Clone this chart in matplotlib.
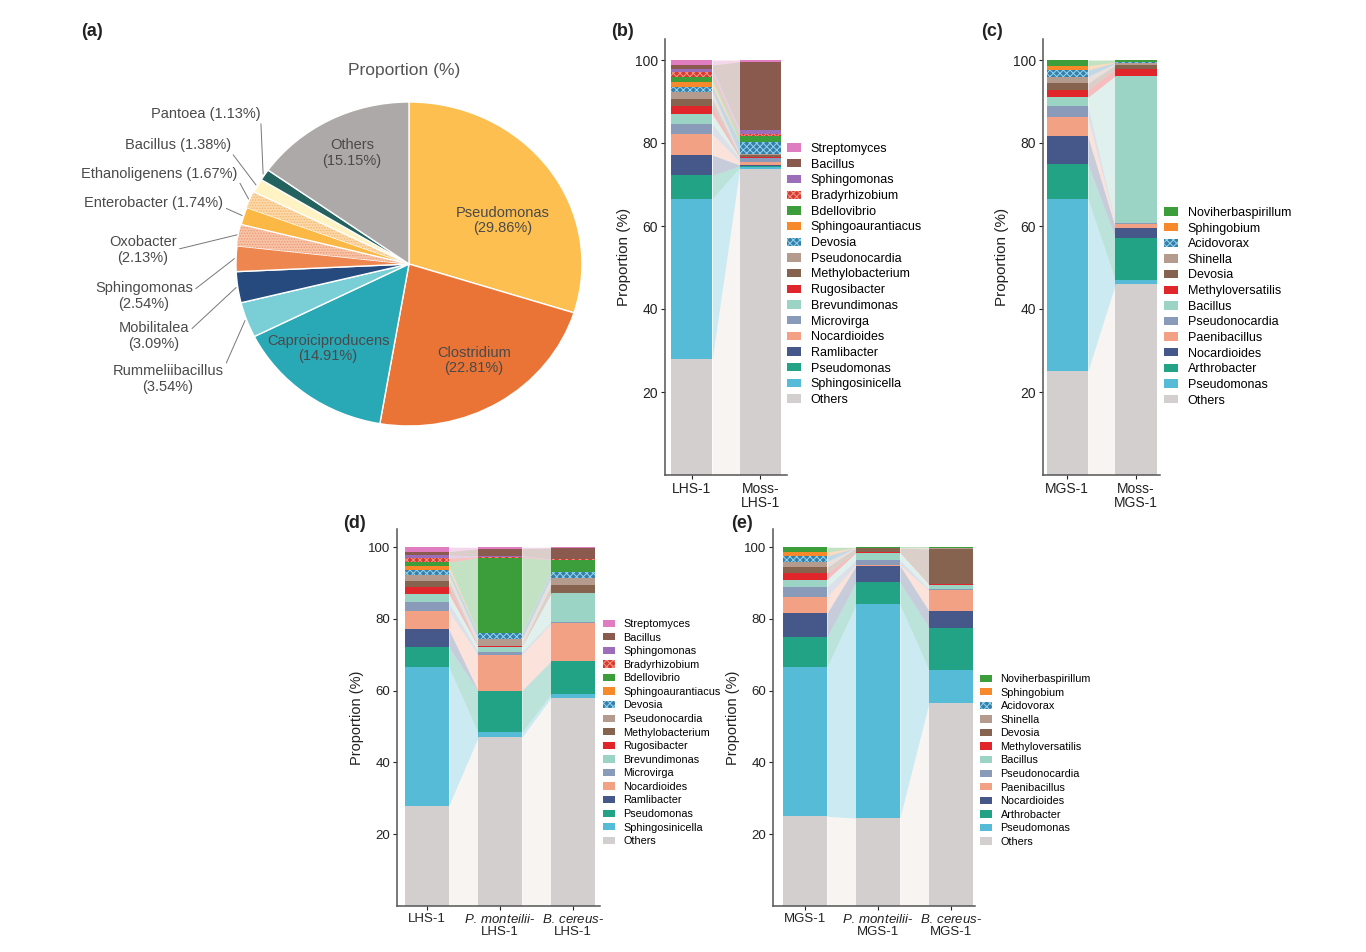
import numpy as np
import matplotlib
matplotlib.use("Agg")
import matplotlib.pyplot as plt
from matplotlib.patches import Patch

plt.rcParams['font.family'] = ['Liberation Sans', 'DejaVu Sans']
plt.rcParams['mathtext.fontset'] = 'custom'
plt.rcParams['mathtext.rm'] = 'Liberation Sans'
plt.rcParams['mathtext.it'] = 'Liberation Sans:italic'
plt.rcParams['hatch.linewidth'] = 0.7

W, H = 1366, 952

# ---------------- data ----------------
# (a) pie, clockwise from 12 o'clock
pie_names = ["Pseudomonas", "Clostridium", "Caproiciproducens", "Rummeliibacillus",
             "Mobilitalea", "Sphingomonas", "Oxobacter", "Enterobacter",
             "Ethanoligenens", "Bacillus", "Pantoea", "Others"]
pie_values = [29.86, 22.81, 14.91, 3.54, 3.09, 2.54, 2.13, 1.74, 1.67, 1.38, 1.13, 15.15]
pie_colors = ["#FDBF50", "#E97435", "#29A8B5", "#7ACFD6", "#264A7D", "#EE8650",
              "#F7C4A6", "#FBB845", "#FCD9AA", "#FFF3C4", "#24625F", "#ADA9A8"]

# (b)/(d) taxa, stacked bottom -> top
lhs_taxa = ["Others", "Sphingosinicella", "Pseudomonas", "Ramlibacter", "Nocardioides",
            "Microvirga", "Brevundimonas", "Rugosibacter", "Methylobacterium",
            "Pseudonocardia", "Devosia", "Sphingoaurantiacus", "Bdellovibrio",
            "Bradyrhizobium", "Sphingomonas", "Bacillus", "Streptomyces"]
lhs1 = [28.0, 38.6, 5.6, 4.9, 5.1, 2.4, 2.4, 2.0, 1.6, 1.8, 1.2, 1.2, 1.0, 1.2, 0.8, 1.0, 1.2]
moss_lhs1 = [73.8, 0.3, 0.4, 0.2, 0.8, 0.8, 0.2, 0.1, 0.4, 0.4, 2.8, 0.1, 1.4, 0.5, 1.0, 16.4, 0.4]
pm_lhs1 = [47.0, 1.4, 11.4, 0.2, 10.0, 0.9, 1.4, 0.1, 0.2, 1.9, 1.5, 0.1, 21.0, 0.3, 0.2, 2.0, 0.4]
bc_lhs1 = [58.1, 1.0, 9.1, 0.1, 10.5, 0.5, 7.9, 0.1, 2.1, 2.1, 1.6, 0.1, 3.3, 0.1, 0.1, 3.1, 0.2]

# (c)/(e) taxa, stacked bottom -> top
mgs_taxa = ["Others", "Pseudomonas", "Arthrobacter", "Nocardioides", "Paenibacillus",
            "Pseudonocardia", "Bacillus", "Methyloversatilis", "Devosia", "Shinella",
            "Acidovorax", "Sphingobium", "Noviherbaspirillum"]
mgs1 = [25.0, 41.6, 8.4, 6.6, 4.6, 2.8, 2.0, 1.8, 1.6, 1.6, 1.6, 1.0, 1.4]
moss_mgs1 = [46.0, 1.0, 10.2, 2.4, 0.8, 0.4, 35.4, 1.6, 1.0, 0.4, 0.2, 0.1, 0.5]
pm_mgs1 = [24.5, 59.6, 6.2, 4.6, 0.2, 1.4, 2.0, 0.1, 1.2, 0.1, 0.0, 0.0, 0.1]
bc_mgs1 = [56.7, 9.0, 11.9, 4.6, 5.8, 0.3, 1.3, 0.2, 9.7, 0.2, 0.1, 0.1, 0.1]

# colours per stacking level
lhs_colors = ["#D3CFCF", "#55BBD6", "#22A385", "#46578A", "#F2A185", "#8A9AB9",
              "#9BD3C4", "#E0262A", "#85634F", "#B59B8D", "#3B7DAA", "#F8892A",
              "#3B9E3A", "#D93A30", "#9C6DB8", "#8A5A4E", "#E07DC0"]
lhs_hatch = {"Devosia": "#8CD8EE", "Bradyrhizobium": "#F29A8A"}
mgs_colors = ["#D3CFCF", "#55BBD6", "#22A385", "#46578A", "#F2A185", "#8A9AB9",
              "#9BD3C4", "#E0262A", "#85634F", "#B59B8D", "#3B7DAA", "#F8892A",
              "#3B9E3A"]
mgs_hatch = {"Acidovorax": "#8CD8EE"}


def fx(x):
    return x / W


def fy(y):
    return 1 - y / H


fig = plt.figure(figsize=(W / 100, H / 100), dpi=100)

# ---------------- (a) pie ----------------
ax_a = fig.add_axes([fx(236), fy(426), 346 / W, 324 / H])
wedges, _ = ax_a.pie(pie_values, colors=pie_colors, startangle=90, counterclock=False,
                     wedgeprops=dict(edgecolor="white", linewidth=1.0))
ax_a.set_aspect("auto")
ax_a.set_xlim(-1, 1)
ax_a.set_ylim(-1, 1)
for w, name in zip(wedges, pie_names):
    if name == "Oxobacter":
        w.set_hatch("......")
        w.set_edgecolor("#EF9A78")
        w.set_linewidth(0)
    if name == "Ethanoligenens":
        w.set_hatch("......")
        w.set_edgecolor("#F7B56A")
        w.set_linewidth(0)

inside = {"Others": (-0.33, 0.685), "Pseudomonas": (0.543, 0.27),
          "Clostridium": (0.376, -0.593), "Caproiciproducens": (-0.468, -0.519)}
for name, (tx, ty) in inside.items():
    v = pie_values[pie_names.index(name)]
    ax_a.text(tx, ty, f"{name}\n({v:.2f}%)", ha="center", va="center",
              fontsize=10.5, color="#4a4a4a", linespacing=1.1)

outside = {"Pantoea": (206, 114, False, (1.0, 0.0)),
           "Bacillus": (178, 145, False, (1.0, 0.0)),
           "Ethanoligenens": (159, 174, False, (1.0, 0.2)),
           "Enterobacter": (154, 203, False, (1.0, 0.2)),
           "Oxobacter": (143, 250, True, (0.88, 0.45)),
           "Sphingomonas": (144, 296, True, (0.97, 0.6)),
           "Mobilitalea": (154, 336, True, (0.97, 0.6)),
           "Rummeliibacillus": (168, 379, True, (0.95, 0.4))}
for name, (px, py, two, rp) in outside.items():
    i = pie_names.index(name)
    w = wedges[i]
    ang = np.deg2rad((w.theta1 + w.theta2) / 2)
    v = pie_values[i]
    label = f"{name}\n({v:.2f}%)" if two else f"{name} ({v:.2f}%)"
    ax_a.annotate(label, xy=(np.cos(ang) * 1.01, np.sin(ang) * 1.01), xycoords="data",
                  xytext=(px, H - py), textcoords="figure pixels",
                  ha="center", va="center", fontsize=10.5, color="#4a4a4a",
                  linespacing=1.1, annotation_clip=False,
                  arrowprops=dict(arrowstyle="-", color="#777777", lw=0.7,
                                  shrinkA=0, shrinkB=0, relpos=rp))

fig.text(fx(404), fy(70), "Proportion (%)", ha="center", va="center",
         fontsize=12.5, color="#555555")


# ---------------- stacked bar panels ----------------
def stacked(ax, samples, taxa, colors, hatches, width=0.6):
    x = np.arange(len(samples))
    data = np.array(samples).T  # taxa x samples
    bottoms = np.zeros(len(samples))
    for k, name in enumerate(taxa):
        vals = data[k]
        tops = bottoms + vals
        c = colors[k]
        # the flow band for Others is a warm off-white in the original
        band = "#E6DCD5" if name == "Others" else c
        for i in range(len(x) - 1):
            ax.fill_between([x[i] + width / 2, x[i + 1] - width / 2],
                            [bottoms[i], bottoms[i + 1]], [tops[i], tops[i + 1]],
                            color=band, alpha=0.3, lw=0)
        if name in hatches:
            ax.bar(x, vals, width, bottom=bottoms, color=c, hatch="xxxxx",
                   edgecolor=hatches[name], lw=0)
        else:
            ax.bar(x, vals, width, bottom=bottoms, color=c, lw=0)
        bottoms = tops
    return x


def style(ax, x, xlabels, xlim, fs):
    ax.set_xlim(*xlim)
    ax.set_ylim(0, 105)
    ax.set_yticks([20, 40, 60, 80, 100])
    ax.set_xticks(x)
    ax.set_xticklabels(xlabels, fontsize=fs, linespacing=1.0)
    ax.tick_params(axis="y", labelsize=fs, colors="#222222", length=3, width=0.8, pad=2)
    ax.tick_params(axis="x", colors="#222222", length=3, width=0.8, pad=2)
    for s in ["top", "right"]:
        ax.spines[s].set_visible(False)
    for s in ["left", "bottom"]:
        ax.spines[s].set_color("#555555")
        ax.spines[s].set_linewidth(1.1)
    ax.set_ylabel("Proportion (%)", fontsize=fs + 1, color="#222222", labelpad=3)


def legend(ax, taxa, colors, hatches, x, y, fs, spacing):
    handles = []
    for name, c in zip(taxa[::-1], colors[::-1]):
        if name in hatches:
            handles.append(Patch(facecolor=c, edgecolor=hatches[name], hatch="xxxxx", lw=0))
        else:
            handles.append(Patch(facecolor=c, lw=0))
    ax.legend(handles, taxa[::-1], loc="upper left",
              bbox_to_anchor=(fx(x), fy(y)), bbox_transform=fig.transFigure,
              frameon=False, fontsize=fs, handlelength=1.1, handleheight=0.65,
              handletextpad=0.8, labelspacing=spacing, borderpad=0, borderaxespad=0)


# (b)
ax_b = fig.add_axes([fx(665), fy(475), 122 / W, (475 - 39.25) / H])
xb = stacked(ax_b, [lhs1, moss_lhs1], lhs_taxa, lhs_colors, lhs_hatch)
style(ax_b, xb, ["LHS-1", "Moss-\nLHS-1"], (-0.39, 1.39), 10)
legend(ax_b, lhs_taxa, lhs_colors, lhs_hatch, 787, 143, 9, 0.295)

# (c)
ax_c = fig.add_axes([fx(1043), fy(475), 117 / W, (475 - 39.25) / H])
xc = stacked(ax_c, [mgs1, moss_mgs1], mgs_taxa, mgs_colors, mgs_hatch)
style(ax_c, xc, ["MGS-1", "Moss-\nMGS-1"], (-0.353, 1.35), 10)
legend(ax_c, mgs_taxa, mgs_colors, mgs_hatch, 1164, 207, 9, 0.29)

# (d)
pm_lbl = r"$\it{P.\,monteilii}$-"
bc_lbl = r"$\it{B.\,cereus}$-"
ax_d = fig.add_axes([fx(397), fy(906), 203 / W, 376.7 / H])
xd = stacked(ax_d, [lhs1, pm_lhs1, bc_lhs1], lhs_taxa, lhs_colors, lhs_hatch)
style(ax_d, xd, ["LHS-1", pm_lbl + "\nLHS-1", bc_lbl + "\nLHS-1"], (-0.41, 2.37), 9.5)
legend(ax_d, lhs_taxa, lhs_colors, lhs_hatch, 603, 619, 7.8, 0.33)

# (e)
ax_e = fig.add_axes([fx(773), fy(906), 202 / W, 376.7 / H])
xe = stacked(ax_e, [mgs1, pm_mgs1, bc_mgs1], mgs_taxa, mgs_colors, mgs_hatch)
style(ax_e, xe, ["MGS-1", pm_lbl + "\nMGS-1", bc_lbl + "\nMGS-1"], (-0.44, 2.33), 9.5)
legend(ax_e, mgs_taxa, mgs_colors, mgs_hatch, 980, 674, 7.8, 0.33)

# panel letters
for lbl, (px, py) in {"(a)": (92, 32), "(b)": (622, 32), "(c)": (992, 32),
                      "(d)": (355, 523), "(e)": (742, 523)}.items():
    fig.text(fx(px), fy(py), lbl, ha="center", va="center", fontsize=13,
             fontweight="bold", color="#222222")

fig.savefig("out.png", dpi=100)
